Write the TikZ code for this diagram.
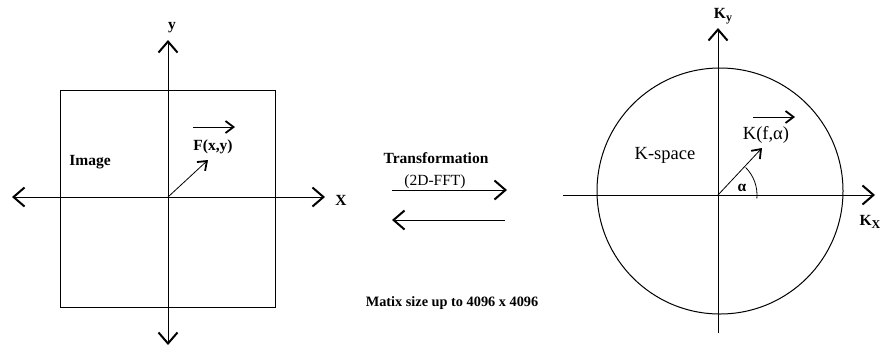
\documentclass[tikz,border=0pt]{standalone}
\usepackage{fontspec}
\setmainfont{Liberation Serif}
\usetikzlibrary{arrows.meta,calc}
\tikzset{
  bigtip/.tip={Straight Barb[length=11pt,width=19pt,line width=2pt]},
  smalltip/.tip={Straight Barb[length=8pt,width=12pt,line width=1.8pt]},
  axis/.style={line width=0.8pt},
  frame/.style={line width=1pt},
  vec/.style={line width=0.8pt,-smalltip},
  lbl/.style={inner sep=0pt,font=\fontsize{15.5}{17}\selectfont},
  blbl/.style={inner sep=0pt,font=\fontsize{15.5}{17}\selectfont\bfseries},
  klbl/.style={inner sep=0pt,font=\fontsize{18.5}{20}\selectfont},
}
\begin{document}
\begin{tikzpicture}[x=1pt,y=-1pt]
\useasboundingbox (0,0) rectangle (886,349);
% ---------- left panel ----------
\coordinate (O1) at (168,197);
\node[draw,frame,minimum width=215pt,minimum height=217pt,inner sep=0pt] (sq) at (167.5,198.5) {};
\coordinate (xl) at (12,197);
\coordinate (xr) at (325,197);
\coordinate (yt) at (168,40);
\coordinate (yb) at (168,345);
\draw[axis,bigtip-bigtip] (xl) -- (xr);
\draw[axis,bigtip-bigtip] (yt) -- (yb);
\node[blbl] (ylab) at (172,28) {y};
\node[blbl] (xlab) at (341,200) {X};
\node[blbl] (img) at (90,162) {Image};
\node[blbl] (F) at (213,147) {F(x,y)};
\coordinate (fa1) at (193,127);
\coordinate (fa2) at (235,127);
\draw[vec] (fa1) -- (fa2);
\coordinate (ftip) at (208,160);
\draw[vec] (O1) -- (ftip);
% ---------- middle ----------
\node[blbl] (tr) at (436,158) {Transformation};
\node[lbl] (fft) at (435,182) {(2D-FFT)};
\coordinate (r1) at (392,190);
\coordinate (r2) at (507,190);
\coordinate (l1) at (505,220);
\coordinate (l2) at (392,220);
\draw[axis,-bigtip] (r1) -- (r2);
\draw[axis,-bigtip] (l1) -- (l2);
\node[inner sep=0pt,font=\fontsize{14.3}{16}\selectfont\bfseries] (mat) at (452,303) {Matix size up to 4096 x 4096};
% ---------- right panel ----------
\coordinate (O2) at (718,195);
\node[draw,frame,circle,minimum size=246pt,inner sep=0pt] (circ) at (720,191) {};
\coordinate (kxl) at (563,195);
\coordinate (kxr) at (875,195);
\coordinate (kyb) at (718,333);
\coordinate (kyt) at (718,28);
\draw[axis,-bigtip] (kxl) -- (kxr);
\draw[axis,-bigtip] (kyb) -- (kyt);
\node[blbl] (ky) at (723,16) {K\raisebox{-3pt}{\fontsize{12}{13}\selectfont y}};
\node[blbl] (kx) at (870,222) {K\raisebox{-3pt}{\fontsize{12}{13}\selectfont X}};
\node[klbl] (ks) at (665,155) {K-space};
\node[klbl] (K) at (766,135) {K(f,α)};
\coordinate (ka1) at (753,117);
\coordinate (ka2) at (795,117);
\draw[vec] (ka1) -- (ka2);
\coordinate (ktip) at (762,148);
\draw[vec] (O2) -- (ktip);
\draw[axis] (O2) ++(5:39) arc[start angle=5,end angle=-45,radius=39];
\node[blbl] (al) at (742,188) {α};
\end{tikzpicture}
\end{document}
